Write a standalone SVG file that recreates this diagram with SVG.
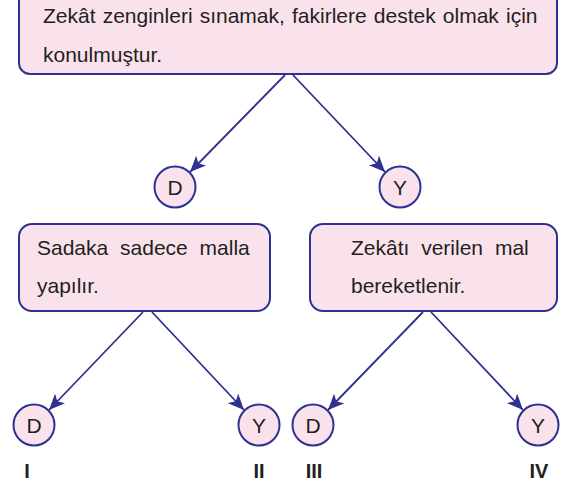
<svg xmlns="http://www.w3.org/2000/svg" width="564" height="484" viewBox="0 0 564 484">
<defs>
<style>
.box{fill:#fae2ec;stroke:#2e3192;stroke-width:2}
.circ{fill:#fae2ec;stroke:#2e3192;stroke-width:2}
.t{font-family:"Liberation Sans",Arial,Helvetica,sans-serif;font-size:21px;fill:#231f20}
.c{font-family:"Liberation Sans",Arial,Helvetica,sans-serif;font-size:21px;fill:#231f20;text-anchor:middle}
.lab{font-family:"Liberation Sans",Arial,Helvetica,sans-serif;font-size:20px;font-weight:bold;fill:#231f20;text-anchor:middle}
.con{stroke:#2e3192;stroke-width:1.8;fill:none;marker-end:url(#ah)}
</style>
<marker id="ah" markerUnits="userSpaceOnUse" markerWidth="18" markerHeight="14" refX="16" refY="7" orient="auto" viewBox="0 0 18 14">
<path d="M0,0 L16,7 L0,14 L4,7 Z" fill="#2e3192"/>
</marker>
</defs>
<g id="connectors">
<line class="con" x1="285" y1="75" x2="190" y2="172"/>
<line class="con" x1="293" y1="75" x2="385" y2="172"/>
<line class="con" x1="143" y1="312" x2="49" y2="410"/>
<line class="con" x1="152" y1="312" x2="244" y2="410"/>
<line class="con" x1="423" y1="312" x2="328" y2="410"/>
<line class="con" x1="431" y1="312" x2="523" y2="410"/>
</g>
<g id="top">
<rect class="box" x="19" y="-12" width="538" height="86" rx="11"/>
<text class="t" x="43" y="23" word-spacing="1.3">Zekât zenginleri sınamak, fakirlere destek olmak için</text>
<text class="t" x="43" y="62">konulmuştur.</text>
</g>
<g id="d1">
<circle class="circ" cx="175" cy="187" r="20.5"/>
<text class="c" x="175" y="194.5">D</text>
</g>
<g id="y1">
<circle class="circ" cx="400" cy="187" r="20.5"/>
<text class="c" x="400" y="194.5">Y</text>
</g>
<g id="left">
<rect class="box" x="19" y="224" width="251" height="87" rx="13"/>
<text class="t" x="37" y="255" word-spacing="6">Sadaka sadece malla</text>
<text class="t" x="37" y="293">yapılır.</text>
</g>
<g id="right">
<rect class="box" x="310" y="224" width="247" height="87" rx="13"/>
<text class="t" x="351" y="255" word-spacing="6">Zekâtı verilen mal</text>
<text class="t" x="351" y="293">bereketlenir.</text>
</g>
<g id="d2">
<circle class="circ" cx="34" cy="425" r="20.5"/>
<text class="c" x="34" y="432.5">D</text>
</g>
<g id="y2">
<circle class="circ" cx="259" cy="425" r="20.5"/>
<text class="c" x="259" y="432.5">Y</text>
</g>
<g id="d3">
<circle class="circ" cx="313" cy="425" r="20.5"/>
<text class="c" x="313" y="432.5">D</text>
</g>
<g id="y3">
<circle class="circ" cx="538" cy="425" r="20.5"/>
<text class="c" x="538" y="432.5">Y</text>
</g>
<g id="labels">
<text class="lab" x="27" y="478">I</text>
<text class="lab" x="259" y="478">II</text>
<text class="lab" x="314" y="478">III</text>
<text class="lab" x="539" y="478">IV</text>
</g>
</svg>
